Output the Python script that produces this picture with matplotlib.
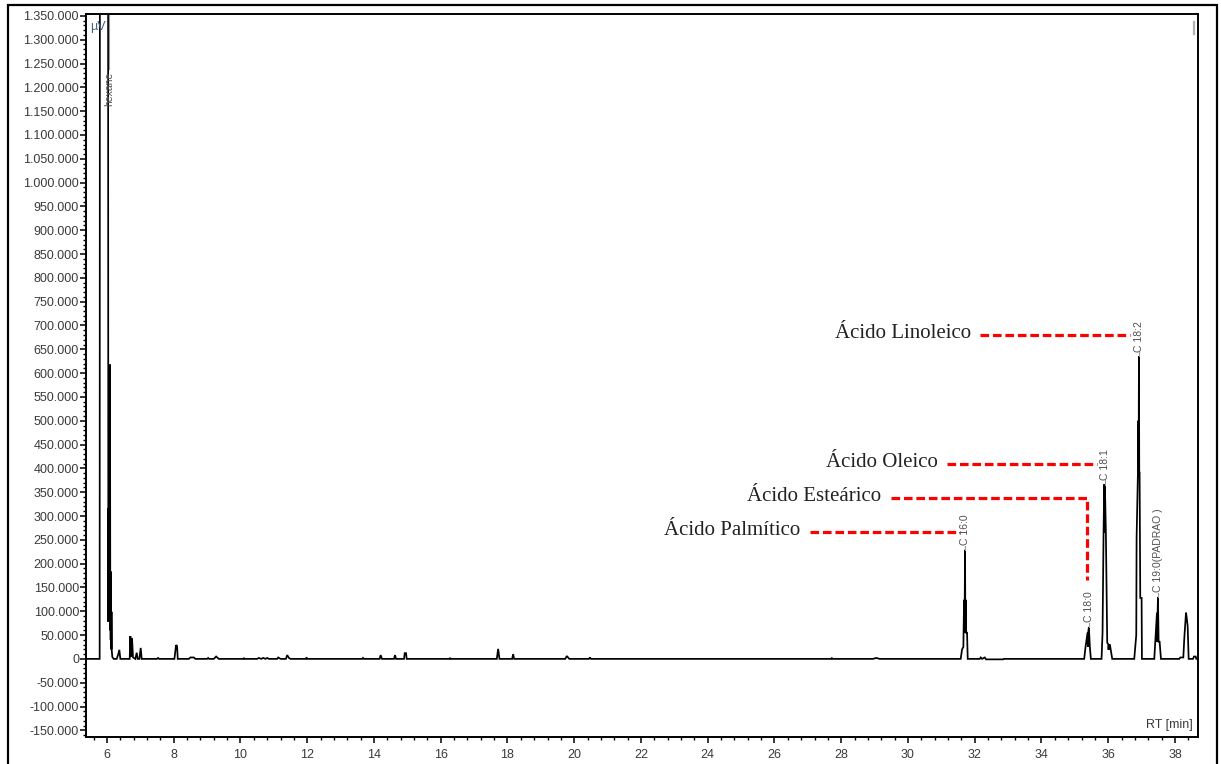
import matplotlib
matplotlib.use("Agg")
import matplotlib.pyplot as plt
from matplotlib.ticker import MultipleLocator, FuncFormatter
from matplotlib.patches import Rectangle
from matplotlib.lines import Line2D

# Chromatogram trace (retention time in min, detector signal in uV)
rt_min = [5.37, 5.78, 5.79, 6.03, 6.04, 6.05, 6.055, 6.06, 6.065, 6.07, 6.08, 6.09, 6.10, 6.105, 6.11,
          6.115, 6.12, 6.125, 6.13, 6.135, 6.14, 6.16, 6.20,
          6.29, 6.33, 6.37, 6.40, 6.68, 6.70, 6.72, 6.75, 6.78, 6.85, 6.89, 6.92, 6.97, 7.01, 7.04,
          7.50, 7.53, 7.56, 8.02, 8.04, 8.07, 8.10, 8.12, 8.45, 8.50, 8.60, 8.65, 9.00, 9.03, 9.06,
          9.20, 9.27, 9.35, 10.08, 10.10, 10.12, 10.50, 10.55, 10.62, 10.68, 10.75, 10.80, 10.85,
          11.10, 11.13, 11.20, 11.36, 11.40, 11.45, 11.50, 11.96, 11.98, 12.00, 13.65, 13.67, 13.70,
          14.17, 14.20, 14.24, 14.60, 14.63, 14.66, 14.90, 14.92, 14.96, 14.98, 16.26, 16.28, 16.30,
          17.68, 17.72, 17.76, 18.14, 18.17, 18.20, 19.73, 19.78, 19.85, 20.44, 20.47, 20.50,
          27.70, 27.72, 27.74, 28.95, 29.05, 29.15,
          31.58, 31.62, 31.66, 31.68, 31.69, 31.70, 31.71, 31.72, 31.73, 31.74, 31.77, 31.79,
          32.15, 32.18, 32.22, 32.30, 32.34, 32.85, 32.87,
          35.28, 35.32, 35.38, 35.39, 35.40, 35.42, 35.45, 35.48,
          35.80, 35.83, 35.86, 35.88, 35.885, 35.89, 35.895, 35.90, 35.93, 35.97, 36.00, 36.01,
          36.02, 36.03, 36.05, 36.12,
          36.78, 36.84, 36.85, 36.89, 36.90, 36.91, 36.92, 36.93, 36.94, 36.96, 37.00, 37.01,
          37.38, 37.41, 37.46, 37.47, 37.48, 37.49, 37.51, 37.54, 37.58,
          38.13, 38.16, 38.25, 38.28, 38.33, 38.35, 38.38, 38.41, 38.54, 38.57, 38.62, 38.64, 38.69]
signal_uv = [0, 0, 2000000, 2000000, 78000, 317000, 80000, 317000, 85000, 300000, 80000, 618000, 60000,
             183000, 40000, 183000, 45000, 99000, 20000, 99000, 20000, 4000, 0,
             0, 8000, 19000, 0, 0, 48000, 5000, 44000, 3000, 0, 13000, 0, 0, 23000, 0,
             0, 2000, 0, 0, 12000, 29000, 27000, 0, 0, 3000, 3000, 0, 0, 2000, 0,
             0, 5000, 0, 0, 2000, 0, 0, 2000, 0, 2000, 0, 2000, 0,
             0, 3000, 0, 0, 8000, 2000, 0, 0, 3000, 0, 0, 2000, 0,
             0, 8000, 0, 0, 8000, 0, 0, 12000, 12000, 0, 0, 2000, 0,
             0, 21000, 0, 0, 10000, 0, 0, 6000, 0, 0, 3000, 0,
             0, 1500, 0, 0, 2000, 0,
             0, 20000, 25000, 124000, 55000, 124000, 229000, 55000, 124000, 55000, 55000, 0,
             0, 3000, 0, 3000, -1000, -1000, 0,
             0, 25000, 55000, 25000, 55000, 67000, 25000, 0,
             0, 55000, 265000, 366000, 265000, 366000, 265000, 366000, 265000, 34000, 31000, 19000,
             31000, 19000, 30000, 0,
             0, 50000, 254000, 391000, 500000, 391000, 635000, 391000, 391000, 128000, 128000, 0,
             0, 36000, 97000, 36000, 97000, 130000, 36000, 36000, 0,
             0, 3000, 3000, 44000, 97000, 88000, 69000, 0, 0, 5000, 5000, 0, 0]

# Integrated peak names
peak_names = ['C 16:0', 'C 18:0', 'C 18:1', 'C 18:2', 'C 19:0(PADRAO )']
peak_rt = [31.71, 35.42, 35.90, 36.92, 37.49]
peak_top = [229000, 67000, 366000, 635000, 130000]

# Fatty acid call-outs with red leader lines
acid_names = ['Ácido Linoleico', 'Ácido Oleico', 'Ácido Esteárico', 'Ácido Palmítico']
leader_y = [681000, 410000, 338500, 267000]
leader_x0 = [32.16, 31.17, 29.49, 27.06]
leader_x1 = [36.65, 35.66, 35.36, 31.56]
leader_drop = [None, None, 166000, None]

fig = plt.figure(figsize=(12.21, 7.64), dpi=100)
ax = fig.add_axes([86 / 1221, 1 - 737 / 764, 1112 / 1221, 723 / 764])

ax.plot(rt_min, signal_uv, color='black', lw=1.25, solid_joinstyle='miter')

ax.set_xlim(5.371, 38.69)
ax.set_ylim(-164000, 1354000)

ax.xaxis.set_major_locator(MultipleLocator(2))
ax.xaxis.set_minor_locator(MultipleLocator(0.4))
ax.yaxis.set_major_locator(MultipleLocator(50000))
ax.yaxis.set_minor_locator(MultipleLocator(10000))
ax.yaxis.set_major_formatter(FuncFormatter(lambda v, p: f"{int(round(v)):,}".replace(',', '.')))
ax.xaxis.set_major_formatter(FuncFormatter(lambda v, p: f"{int(round(v))}"))

ax.tick_params(axis='both', which='major', direction='out', length=4, width=1.1,
               labelsize=9, labelcolor='#3a3a3a')
ax.tick_params(axis='both', which='minor', direction='out', length=2.5, width=1.0)
ax.tick_params(axis='x', pad=5)
ax.tick_params(axis='y', pad=1)
for lbl in ax.get_xticklabels() + ax.get_yticklabels():
    lbl.set_family('Liberation Sans')
for sp in ax.spines.values():
    sp.set_linewidth(1.4)

# peak name labels with their short connectors
for name, t, h in zip(peak_names, peak_rt, peak_top):
    ax.plot([t, t], [h, h + 9000], color='#9a9a9a', lw=0.8)
    ax.text(t, h + 10000, name, rotation=90, ha='center', va='bottom', fontsize=7.5,
            color='#505050', family='Liberation Sans')

# solvent peak goes off scale
ax.plot([6.06, 6.06], [1238000, 1354000], color='#9a9a9a', lw=0.8)
ax.text(6.06, 1232000, 'hexane', rotation=90, ha='center', va='top', fontsize=7.5,
        color='#505050', family='Liberation Sans')

ax.text(5.72, 1327000, 'µV', fontsize=9, color='#4a6285', ha='center', va='center',
        family='Liberation Sans')
ax.text(0.995, 0.017, 'RT [min]', transform=ax.transAxes, fontsize=9, color='#3a3a3a',
        ha='right', va='center', family='Liberation Sans')

for name, y, x0, x1, drop in zip(acid_names, leader_y, leader_x0, leader_x1, leader_drop):
    xs, ys = [x0, x1], [y, y]
    if drop is not None:
        xs.append(x1)
        ys.append(drop)
    ax.plot(xs, ys, color='#ff0000', lw=2.3, linestyle=(0, (2.7, 1.2)),
            solid_joinstyle='miter', dash_joinstyle='miter')
    ax.text(x0 - 0.28, y + 3000, name, ha='right', va='center', fontsize=15,
            color='#222222', family='Liberation Serif')

# page frame around the figure
fig.patches.append(Rectangle((8 / 1221, -0.05), 1209 / 1221, 1.05 - 5 / 764,
                             transform=fig.transFigure, fill=False, ec='black', lw=1.6))
fig.lines.append(Line2D([1194 / 1221, 1194 / 1221], [1 - 22 / 764, 1 - 34 / 764],
                        transform=fig.transFigure, color='#b0b0b0', lw=1.6))

fig.savefig('out.png', dpi=100)
